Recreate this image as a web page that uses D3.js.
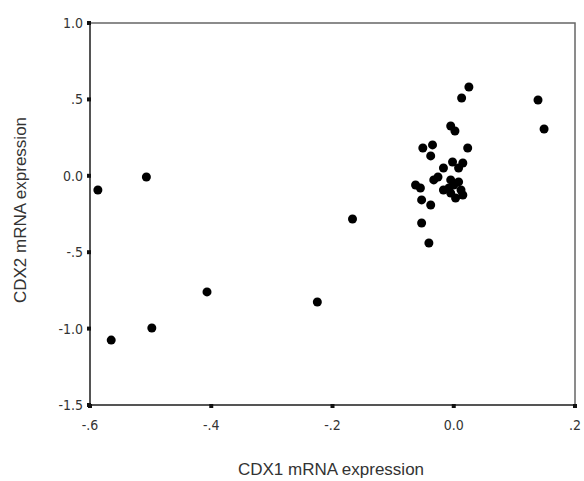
<!DOCTYPE html>
<html>
<head>
<meta charset="utf-8">
<script src="https://cdn.jsdelivr.net/npm/d3@7"></script>
<style>
  body { margin: 0; background: #fff; }
  svg { display: block; }
  .tick-label { font-family: "DejaVu Sans Condensed", "DejaVu Sans", sans-serif; font-size: 14px; fill: #333; }
  .axis-title { font-family: "Liberation Sans", Arial, sans-serif; font-size: 17px; fill: #333; }
</style>
</head>
<body>
<div id="vis"></div>
<script>
// frame
const FRAME_WIDTH = 584;
const FRAME_HEIGHT = 481;
const MARGINS = {left: 90, right: 9, top: 23, bottom: 76};

const VIS_WIDTH = FRAME_WIDTH - MARGINS.left - MARGINS.right;
const VIS_HEIGHT = FRAME_HEIGHT - MARGINS.top - MARGINS.bottom;

// data
const cdx1 = [
  -0.587, -0.507, -0.565, -0.498, -0.407, -0.225, -0.167, 0.139, 0.149,
  0.025, 0.013, -0.005, 0.002, -0.051, -0.035, -0.038, 0.023,
  -0.017, -0.002, 0.015, 0.008, -0.033, -0.026, -0.063, -0.055,
  -0.005, 0.000, 0.008, -0.017, -0.005, 0.012, 0.003, 0.015,
  -0.053, -0.038, -0.053, -0.041, -0.008
];
const cdx2 = [
  -0.093, -0.008, -1.075, -0.996, -0.760, -0.826, -0.283, 0.496, 0.306,
  0.581, 0.509, 0.326, 0.293, 0.182, 0.202, 0.130, 0.182,
  0.051, 0.090, 0.084, 0.051, -0.027, -0.008, -0.060, -0.080,
  -0.027, -0.060, -0.040, -0.093, -0.113, -0.093, -0.145, -0.126,
  -0.158, -0.191, -0.309, -0.440, -0.080
];
const xTicks = [-0.6, -0.4, -0.2, 0.0, 0.2];
const xTickLabels = ["-.6", "-.4", "-.2", "0.0", ".2"];
const yTicks = [1.0, 0.5, 0.0, -0.5, -1.0, -1.5];
const yTickLabels = ["1.0", ".5", "0.0", "-.5", "-1.0", "-1.5"];

const FRAME = d3.select("#vis")
  .append("svg")
    .attr("width", FRAME_WIDTH)
    .attr("height", FRAME_HEIGHT);

const X_SCALE = d3.scaleLinear().domain([-0.6, 0.2]).range([0, VIS_WIDTH]);
const Y_SCALE = d3.scaleLinear().domain([-1.5, 1.0]).range([VIS_HEIGHT, 0]);

const G = FRAME.append("g")
  .attr("transform", "translate(" + MARGINS.left + "," + MARGINS.top + ")");

// box around the plot
G.append("rect")
  .attr("x", 0).attr("y", 0)
  .attr("width", VIS_WIDTH).attr("height", VIS_HEIGHT)
  .attr("fill", "none")
  .attr("stroke", "#666")
  .attr("stroke-width", 1.5);

// left and bottom axes a bit darker
G.append("line")
  .attr("x1", 0).attr("x2", 0).attr("y1", 0).attr("y2", VIS_HEIGHT)
  .attr("stroke", "#555").attr("stroke-width", 2);
G.append("line")
  .attr("x1", 0).attr("x2", VIS_WIDTH).attr("y1", VIS_HEIGHT).attr("y2", VIS_HEIGHT)
  .attr("stroke", "#555").attr("stroke-width", 2);

// x ticks: small dots on the axis
G.selectAll(".xtick")
  .data(xTicks)
  .enter()
  .append("rect")
    .attr("x", (d) => X_SCALE(d) - 2)
    .attr("y", VIS_HEIGHT - 1)
    .attr("width", 4).attr("height", 4)
    .attr("fill", "#111");

G.selectAll(".xlabel")
  .data(xTicks)
  .enter()
  .append("text")
    .attr("class", "tick-label")
    .attr("x", (d) => X_SCALE(d))
    .attr("y", VIS_HEIGHT + 25)
    .attr("text-anchor", "middle")
    .text((d, i) => xTickLabels[i]);

// y ticks
G.selectAll(".ytick")
  .data(yTicks)
  .enter()
  .append("rect")
    .attr("x", -3)
    .attr("y", (d) => Y_SCALE(d) - 2)
    .attr("width", 4).attr("height", 4)
    .attr("fill", "#111");

G.selectAll(".ylabel")
  .data(yTicks)
  .enter()
  .append("text")
    .attr("class", "tick-label")
    .attr("x", -7)
    .attr("y", (d) => Y_SCALE(d))
    .attr("dy", "0.36em")
    .attr("text-anchor", "end")
    .text((d, i) => yTickLabels[i]);

// points
G.selectAll("circle")
  .data(cdx1)
  .enter()
  .append("circle")
    .attr("cx", (d) => X_SCALE(d))
    .attr("cy", (d, i) => Y_SCALE(cdx2[i]))
    .attr("r", 4.5)
    .attr("fill", "#000");

// axis titles
FRAME.append("text")
  .attr("class", "axis-title")
  .attr("x", 331)
  .attr("y", 475)
  .attr("text-anchor", "middle")
  .text("CDX1 mRNA expression");

FRAME.append("text")
  .attr("class", "axis-title")
  .attr("transform", "translate(26," + 210 + ") rotate(-90)")
  .attr("text-anchor", "middle")
  .text("CDX2 mRNA expression");
</script>
</body>
</html>
